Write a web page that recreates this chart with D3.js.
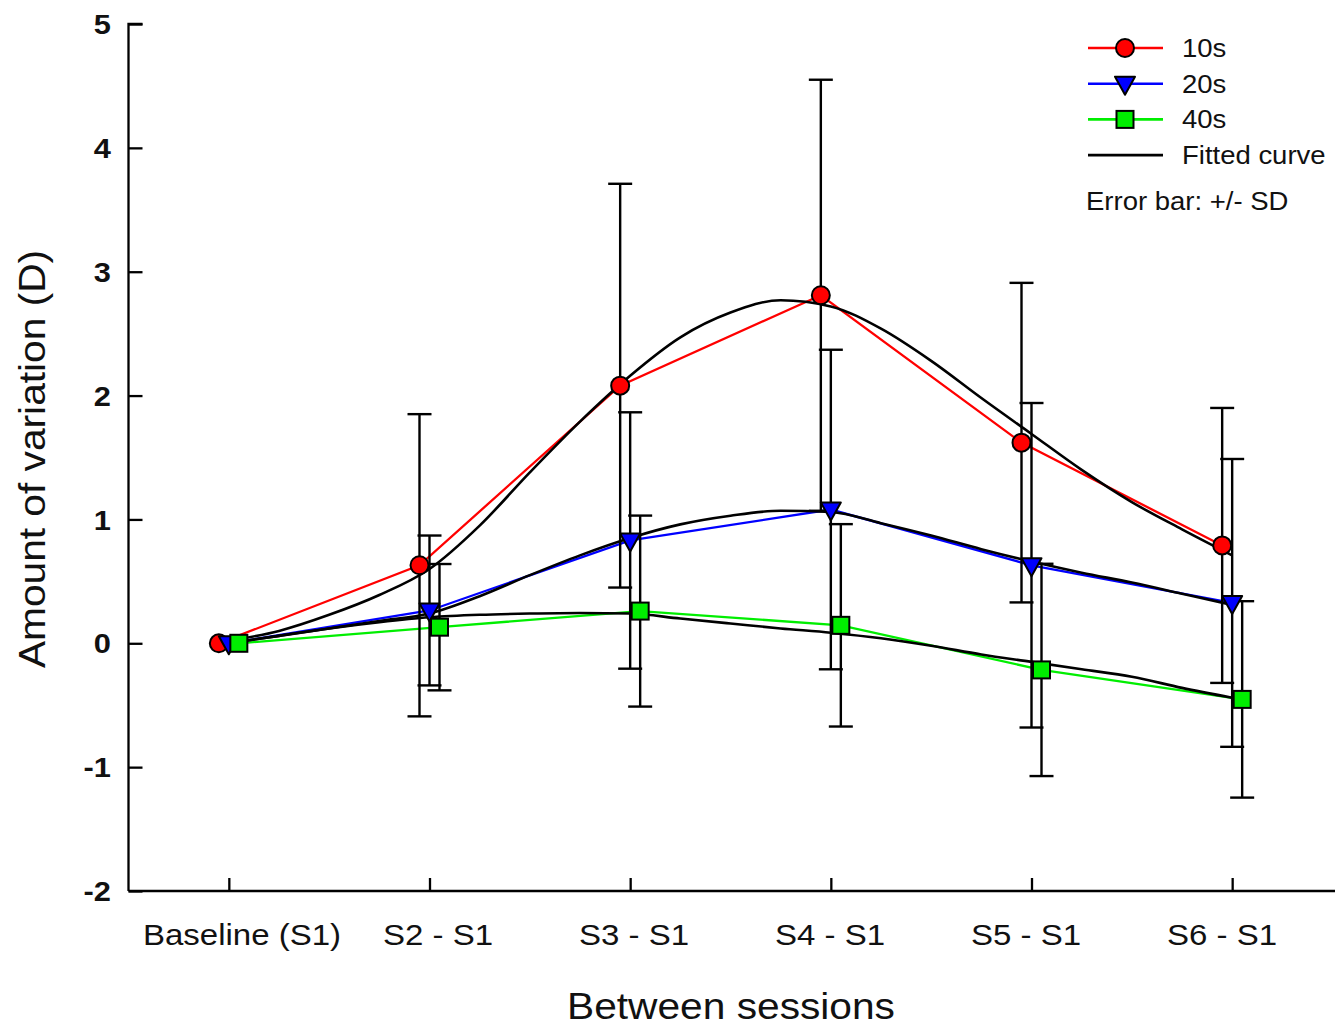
<!DOCTYPE html>
<html>
<head>
<meta charset="utf-8">
<script src="https://cdn.jsdelivr.net/npm/d3@7"></script>
<style>
  html, body { margin: 0; padding: 0; background: #fff; }
  svg { display: block; }
  text { font-family: "Liberation Sans", Arial, sans-serif; fill: #111; }
</style>
</head>
<body>
<svg id="chart" width="1338" height="1027"></svg>
<script>
// ---- data ----
const categories = ["Baseline (S1)", "S2 - S1", "S3 - S1", "S4 - S1", "S5 - S1", "S6 - S1"];
const yTicks = [-2, -1, 0, 1, 2, 3, 4, 5];

const mean10 = [0, 0.63, 2.08, 2.81, 1.62, 0.79];
const sd10   = [0, 1.22, 1.63, 1.74, 1.29, 1.11];
const mean20 = [0, 0.265, 0.83, 1.08, 0.63, 0.326];
const sd20   = [0, 0.605, 1.035, 1.29, 1.31, 1.162];
const mean40 = [0, 0.13, 0.26, 0.145, -0.215, -0.453];
const sd40   = [0, 0.51, 0.771, 0.817, 0.857, 0.793];

// fitted curves at positions along the category axis
const fitPos = [0, 0.25, 0.5, 0.75, 1, 1.25, 1.5, 1.75, 2, 2.25, 2.5, 2.75, 3, 3.25, 3.5, 3.75, 4, 4.25, 4.5, 4.75, 5];
const fit10 = [0.02, 0.10, 0.23, 0.39, 0.60, 0.95, 1.38, 1.79, 2.16, 2.47, 2.67, 2.77, 2.72, 2.54, 2.28, 1.98, 1.69, 1.40, 1.14, 0.92, 0.71];
const fit20 = [0.0, 0.06, 0.12, 0.18, 0.24, 0.38, 0.55, 0.71, 0.85, 0.96, 1.03, 1.07, 1.06, 0.97, 0.87, 0.76, 0.66, 0.57, 0.49, 0.40, 0.31];
const fit40 = [0.0, 0.06, 0.12, 0.17, 0.21, 0.23, 0.24, 0.245, 0.24, 0.20, 0.16, 0.12, 0.085, 0.04, -0.02, -0.09, -0.15, -0.21, -0.27, -0.36, -0.44];

const seriesNames = ["10s", "20s", "40s"];
const legendExtra = ["Fitted curve"];
const noteText = "Error bar: +/- SD";
const xTitle = "Between sessions";
const yTitle = "Amount of variation (D)";

// ---- layout ----
const svg = d3.select("#chart");
const x = d3.scaleLinear().domain([-0.5, 5.5]).range([128.5, 1332.5]);
const y = d3.scaleLinear().domain([-2, 5]).range([891, 24]);
const labelX = d3.scaleLinear().domain([0, categories.length - 1]).range([242, 1222]);
const STRETCH = 1.1; // text in the original is slightly wide

function addText(parent, tx, ty, str, opts) {
  const t = parent.append("text")
    .attr("transform", `translate(${tx},${ty}) ${opts.rotate ? "rotate(" + opts.rotate + ") " : ""}scale(${STRETCH},1)`)
    .attr("text-anchor", opts.anchor || "start")
    .attr("font-size", opts.size)
    .text(str);
  if (opts.dy) t.attr("dy", opts.dy);
  if (opts.weight) t.attr("font-weight", opts.weight);
  return t;
}

const series = [
  { name: seriesNames[0], mean: mean10, sd: sd10, fit: fit10, color: "#ff0000", shape: "circle", dx: -10 },
  { name: seriesNames[1], mean: mean20, sd: sd20, fit: fit20, color: "#0000ff", shape: "tri", dx: 0 },
  { name: seriesNames[2], mean: mean40, sd: sd40, fit: fit40, color: "#00ee00", shape: "square", dx: 10 }
];

function drawMarker(g, shape, cx, cy, color) {
  if (shape === "circle") {
    g.append("circle").attr("cx", cx).attr("cy", cy).attr("r", 9)
      .attr("fill", color).attr("stroke", "#000").attr("stroke-width", 2);
  } else if (shape === "tri") {
    g.append("path")
      .attr("d", `M${cx - 10},${cy - 7} L${cx + 10},${cy - 7} L${cx},${cy + 11} Z`)
      .attr("fill", color).attr("stroke", "#000").attr("stroke-width", 2).attr("stroke-linejoin", "round");
  } else {
    g.append("rect").attr("x", cx - 8.5).attr("y", cy - 8.5).attr("width", 17).attr("height", 17)
      .attr("fill", color).attr("stroke", "#000").attr("stroke-width", 2);
  }
}

// ---- axes ----
const yAxis = d3.axisRight(y).tickValues(yTicks).tickSize(14).tickFormat("");
const gy = svg.append("g").attr("transform", `translate(${x.range()[0]},0)`).call(yAxis);
gy.select(".domain").attr("d", `M14,${y(5)}H0V${y(-2)}`);
gy.selectAll("path,line").attr("stroke", "#000").attr("stroke-width", 2.3);

const gyl = svg.append("g");
yTicks.forEach(d => addText(gyl, 111, y(d), d, { anchor: "end", size: 28, weight: "bold", dy: "0.36em" }));

const xAxis = d3.axisTop(x).tickValues(d3.range(categories.length)).tickSize(13).tickFormat("");
const gx = svg.append("g").attr("transform", `translate(0,${y(-2)})`).call(xAxis);
gx.select(".domain").attr("d", `M${x.range()[0]},0H1335`);
gx.selectAll("path,line").attr("stroke", "#000").attr("stroke-width", 2.3);

const gxl = svg.append("g");
categories.forEach((c, i) => addText(gxl, labelX(i), 945, c, { anchor: "middle", size: 30 }));

addText(svg, 731, 1019, xTitle, { anchor: "middle", size: 37 });
addText(svg, 45, 459, yTitle, { anchor: "middle", size: 37, rotate: -90 });

// ---- series lines ----
const plot = svg.append("g");
series.forEach(s => {
  const line = d3.line().x((d, i) => x(i) + s.dx).y(d => y(d));
  plot.append("path").datum(s.mean).attr("d", line)
    .attr("fill", "none").attr("stroke", s.color).attr("stroke-width", 2.3);
});

// fitted curves
series.forEach(s => {
  const fl = d3.line().x((d, i) => x(fitPos[i])).y(d => y(d)).curve(d3.curveMonotoneX);
  plot.append("path").datum(s.fit).attr("d", fl)
    .attr("fill", "none").attr("stroke", "#000").attr("stroke-width", 2.6);
});

// error bars
series.forEach(s => {
  s.mean.forEach((m, i) => {
    if (s.sd[i] <= 0) return;
    const cx = x(i) + s.dx;
    const g = plot.append("g").attr("stroke", "#000").attr("stroke-width", 2.4);
    g.append("line").attr("x1", cx).attr("x2", cx).attr("y1", y(m + s.sd[i])).attr("y2", y(m - s.sd[i]));
    [m + s.sd[i], m - s.sd[i]].forEach(v => {
      g.append("line").attr("x1", cx - 12).attr("x2", cx + 12).attr("y1", y(v)).attr("y2", y(v));
    });
  });
});

// markers
series.forEach(s => {
  s.mean.forEach((m, i) => drawMarker(plot, s.shape, x(i) + s.dx, y(m), s.color));
});

// ---- legend ----
const leg = svg.append("g");
const rows = [...series, { name: legendExtra[0], color: "#000", shape: null }];
rows.forEach((r, k) => {
  const ly = 48 + k * 35.7;
  leg.append("line").attr("x1", 1088).attr("x2", 1163).attr("y1", ly).attr("y2", ly)
    .attr("stroke", r.color).attr("stroke-width", 2.6);
  if (r.shape) drawMarker(leg, r.shape, 1125, ly, r.color);
  addText(leg, 1182, ly, r.name, { size: 25, dy: "0.36em" });
});
addText(leg, 1086, 201, noteText, { size: 25, dy: "0.36em" });
</script>
</body>
</html>
